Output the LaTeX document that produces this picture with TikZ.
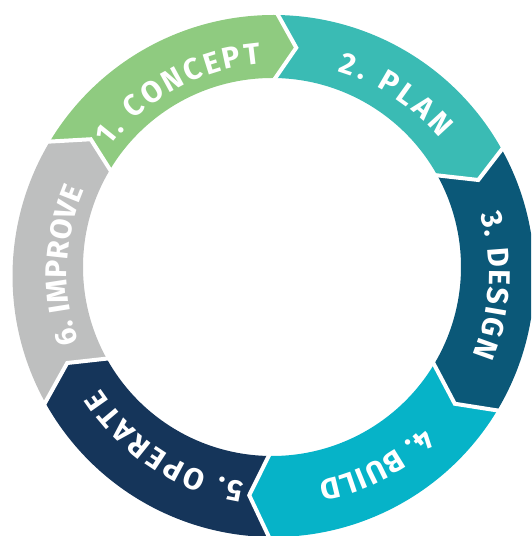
\documentclass[tikz,border=0pt]{standalone}
\usepackage{fontspec}
\newfontfamily\lblfont{Fira Sans}
\usetikzlibrary{calc,decorations.text}

\definecolor{concept}{HTML}{8FCB80}
\definecolor{plan}{HTML}{3ABBB4}
\definecolor{design}{HTML}{0B5878}
\definecolor{build}{HTML}{06B3C8}
\definecolor{operate}{HTML}{15355A}
\definecolor{improve}{HTML}{BEBFBF}
\newcommand\ringfont{\lblfont\bfseries\fontsize{30}{34}\selectfont}

\begin{document}
\begin{tikzpicture}[x=1pt, y=1pt,
        gap/.style={draw=white, line width=4pt, line cap=rect, miter limit=20},
        ringtext/.style={decorate, decoration={text along path,
          text align={fit to path}, text color=white, text={|\ringfont|#1}}}
      ]
        \useasboundingbox (0,0) rectangle (531,536);
        \clip (0,0) rectangle (531,536);
        \coordinate (O) at (273.5,260);   % outer rim
        \coordinate (I) at (272,269);     % inner rim
        \coordinate (M) at (272.75,264.5);
        \coordinate (T) at (278,262);     % text circle
        \def\Ro{261} \def\Ri{189} \def\Rm{225} \def\Rt{211}
        % six chevron segments, clockwise
        \foreach \va/\col in {144/concept, 84/plan, 24/design, -36/build, -96/operate, -156/improve} {
          \pgfmathsetmacro\ea{\va+5}
          \pgfmathsetmacro\vb{\va-60}
          \pgfmathsetmacro\eb{\va-55}
          \fill[\col] ($(O)+(\ea:\Ro)$) arc[start angle=\ea, end angle=\eb, radius=\Ro]
            -- ($(M)+(\vb:\Rm)$) -- ($(I)+(\eb:\Ri)$)
            arc[start angle=\eb, end angle=\ea, radius=\Ri]
            -- ($(M)+(\va:\Rm)$) -- cycle;
        }
        \foreach \va in {144,84,24,-36,-96,-156} {
          \pgfmathsetmacro\ea{\va+5}
          \draw[gap] ($(O)+(\ea:\Ro)$) -- ($(M)+(\va:\Rm)$) -- ($(I)+(\ea:\Ri)$);
        }
        % labels
        \path[ringtext={1. CONCEPT}] ($(T)+(143:\Rt)$) arc[start angle=143, end angle=94.5, radius=\Rt];
        \path[ringtext={2. PLAN}] ($(T)+(73.5:\Rt)$) arc[start angle=73.5, end angle=40, radius=\Rt];
        \path[ringtext={3. DESIGN}] ($(T)+(16.5:\Rt)$) arc[start angle=16.5, end angle=-22.5, radius=\Rt];
        \path[ringtext={4. BUILD}] ($(T)+(-46.5:\Rt)$) arc[start angle=-46.5, end angle=-79, radius=\Rt];
        \path[ringtext={5. OPERATE}] ($(T)+(-99:\Rt)$) arc[start angle=-99, end angle=-147, radius=\Rt];
        \path[ringtext={6. IMPROVE}] ($(T)+(199:\Rt)$) arc[start angle=199, end angle=156.5, radius=\Rt];
      \end{tikzpicture}
\end{document}
